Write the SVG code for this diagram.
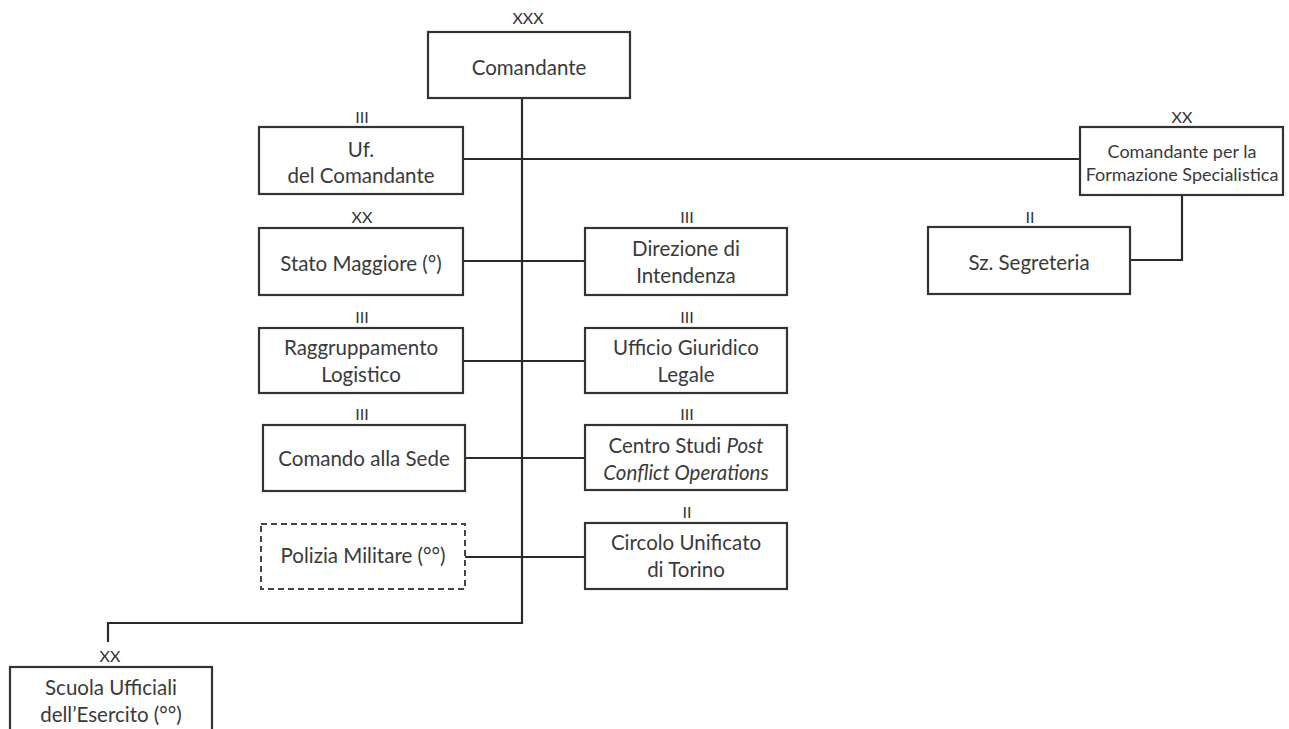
<svg xmlns="http://www.w3.org/2000/svg" width="1289" height="729" viewBox="0 0 1289 729">
<style>
.box{fill:#fff;stroke:#333;stroke-width:2.2}
.dash{fill:#fff;stroke:#444;stroke-width:2;stroke-dasharray:6 4}
.t{font-family:Lato,"Open Sans",sans-serif;font-size:20.5px;fill:#3a3a3a;text-anchor:middle}
.s{font-size:18px}
.r{font-family:Lato,"Open Sans",sans-serif;font-size:16px;fill:#333;text-anchor:middle}
.c{fill:none;stroke:#2a2a2a;stroke-width:2.2}
</style>
<rect width="1289" height="729" fill="#fff"/>
<g id="connectors">
<path class="c" d="M522 98V623H108V642"/>
<path class="c" d="M463 159H1080"/>
<path class="c" d="M1182 195V260H1130"/>
<path class="c" d="M463 261H585"/>
<path class="c" d="M463 361H585"/>
<path class="c" d="M465 458H585"/>
<path class="c" d="M465 557H585"/>
</g>
<g id="comandante">
<text class="r" x="528" y="24">XXX</text>
<rect class="box" x="428" y="32" width="202" height="66"/>
<text class="t" x="529" y="75">Comandante</text>
</g>
<g id="uf-comandante">
<text class="r" x="362" y="123">III</text>
<rect class="box" x="259" y="127" width="204" height="67"/>
<text class="t" x="361" y="157">Uf.</text>
<text class="t" x="361" y="183">del Comandante</text>
</g>
<g id="formazione">
<text class="r" x="1182" y="123">XX</text>
<rect class="box" x="1080" y="127" width="203" height="68"/>
<text class="t s" x="1182" y="158">Comandante per la</text>
<text class="t s" x="1182" y="181">Formazione Specialistica</text>
</g>
<g id="segreteria">
<text class="r" x="1030" y="223">II</text>
<rect class="box" x="928" y="227" width="202" height="67"/>
<text class="t" x="1029" y="270">Sz. Segreteria</text>
</g>
<g id="stato-maggiore">
<text class="r" x="362" y="223">XX</text>
<rect class="box" x="259" y="228" width="204" height="67"/>
<text class="t" x="361" y="271">Stato Maggiore (°)</text>
</g>
<g id="direzione">
<text class="r" x="687" y="223">III</text>
<rect class="box" x="585" y="228" width="202" height="67"/>
<text class="t" x="686" y="256">Direzione di</text>
<text class="t" x="686" y="283">Intendenza</text>
</g>
<g id="raggruppamento">
<text class="r" x="362" y="323">III</text>
<rect class="box" x="259" y="328" width="204" height="65"/>
<text class="t" x="361" y="355">Raggruppamento</text>
<text class="t" x="361" y="382">Logistico</text>
</g>
<g id="ufficio-giuridico">
<text class="r" x="687" y="323">III</text>
<rect class="box" x="585" y="328" width="202" height="65"/>
<text class="t" x="686" y="355">Ufficio Giuridico</text>
<text class="t" x="686" y="382">Legale</text>
</g>
<g id="comando-sede">
<text class="r" x="362" y="420">III</text>
<rect class="box" x="263" y="425" width="202" height="66"/>
<text class="t" x="364" y="466">Comando alla Sede</text>
</g>
<g id="centro-studi">
<text class="r" x="687" y="420">III</text>
<rect class="box" x="585" y="425" width="202" height="65"/>
<text class="t" x="686" y="453">Centro Studi <tspan font-style="italic">Post</tspan></text>
<text class="t" x="686" y="480" font-style="italic">Conflict Operations</text>
</g>
<g id="polizia-militare">
<rect class="dash" x="261" y="524" width="204" height="65"/>
<text class="t" x="363" y="563">Polizia Militare (°°)</text>
</g>
<g id="circolo">
<text class="r" x="687" y="518">II</text>
<rect class="box" x="585" y="523" width="202" height="66"/>
<text class="t" x="686" y="550">Circolo Unificato</text>
<text class="t" x="686" y="577">di Torino</text>
</g>
<g id="scuola-ufficiali">
<text class="r" x="110" y="662">XX</text>
<rect class="box" x="10" y="667" width="202" height="80"/>
<text class="t" x="111" y="695">Scuola Ufficiali</text>
<text class="t" x="111" y="722">dell’Esercito (°°)</text>
</g>
</svg>
